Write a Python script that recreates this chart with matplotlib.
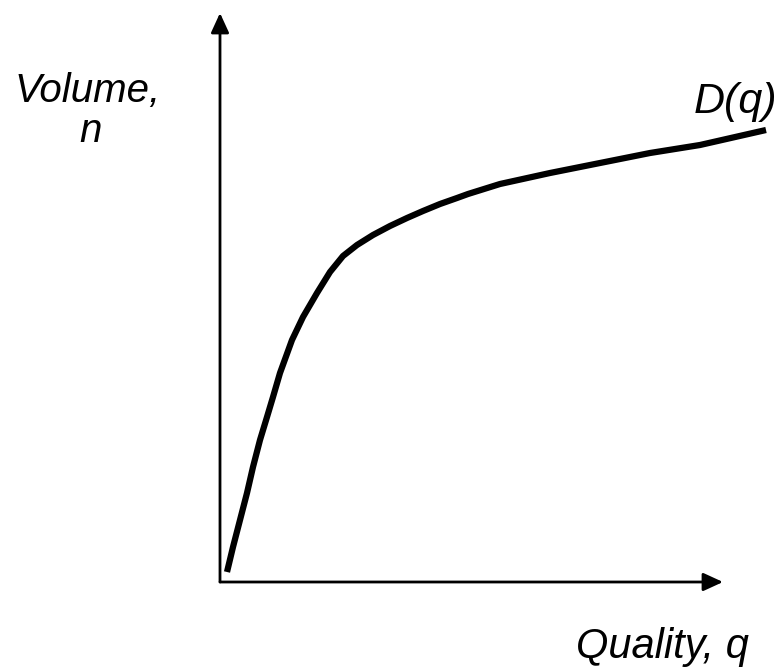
import matplotlib
matplotlib.use("Agg")
import matplotlib.pyplot as plt

# Curve D(q): quality q vs volume n (arbitrary units)
q_vals = [0.14, 0.26, 0.40, 0.54, 0.66, 0.80, 0.94, 1.06, 1.20, 1.44, 1.66, 1.94, 2.20,
          2.46, 2.74, 3.06, 3.40, 3.74, 4.06, 4.40, 4.74, 4.96, 5.60, 6.60, 7.60, 8.60,
          9.60, 10.92]
n_vals = [0.20, 0.70, 1.24, 1.78, 2.30, 2.84, 3.30, 3.70, 4.18, 4.84, 5.30, 5.78, 6.20,
          6.52, 6.74, 6.94, 7.12, 7.28, 7.42, 7.56, 7.68, 7.76, 7.96, 8.18, 8.38, 8.58,
          8.74, 9.04]

x_label = "Quality, q"
y_label_1 = "Volume,"
y_label_2 = "n"
curve_label = "D(q)"

plt.rcParams['font.family'] = ['Liberation Sans', 'DejaVu Sans']

fig = plt.figure(figsize=(7.83, 6.71), dpi=100)
ax = fig.add_axes([0, 0, 1, 1])
ax.set_xlim(-4.4, 11.26)
ax.set_ylim(-1.78, 11.64)
ax.axis('off')

# axes with arrows
arrow_kw = dict(arrowstyle='-|>,head_length=1.2,head_width=0.55', color='black', lw=2,
                shrinkA=0, shrinkB=0)
ax.annotate('', xy=(10.06, 0), xytext=(0, 0), arrowprops=arrow_kw)
ax.annotate('', xy=(0, 11.38), xytext=(0, 0), arrowprops=arrow_kw)

ax.plot(q_vals, n_vals, color='black', lw=4.5, solid_capstyle='butt',
        solid_joinstyle='round')

ax.text(-2.64, 9.6, y_label_1, fontsize=29, style='italic', ha='center', va='baseline')
ax.text(-2.58, 8.8, y_label_2, fontsize=29, style='italic', ha='center', va='baseline')
ax.text(8.84, -1.52, x_label, fontsize=30, style='italic', ha='center', va='baseline')
ax.text(10.3, 9.38, curve_label, fontsize=31, style='italic', ha='center', va='baseline')

fig.savefig('out.png', dpi=100)
